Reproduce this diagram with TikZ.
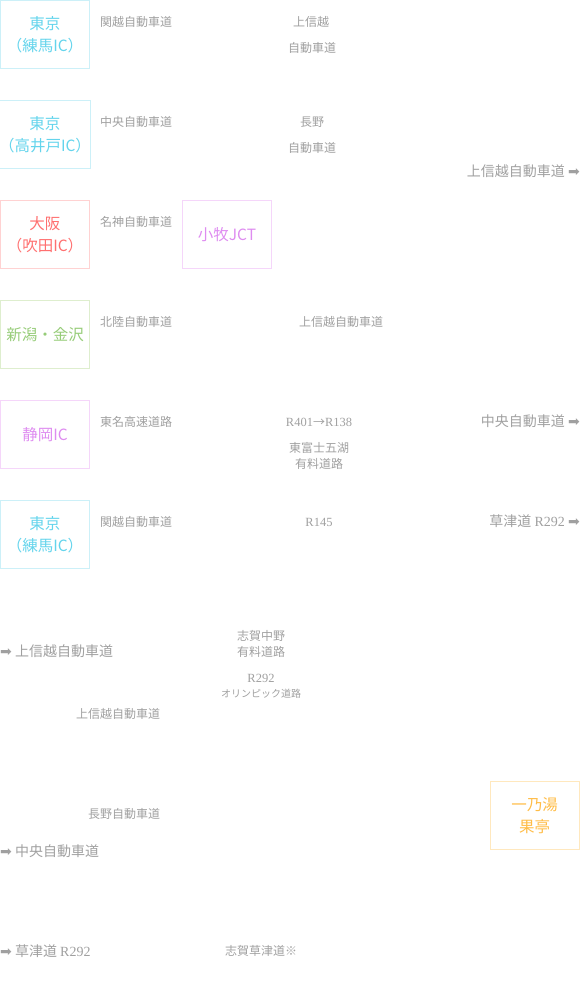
\documentclass[tikz,border=0pt]{standalone}
\usepackage{fontspec}
\setmainfont{Liberation Serif}
\newfontfamily\jp{Noto Sans CJK JP}
\newfontfamily\sym{DejaVu Sans}
\usepackage{tikz}
\usepackage{xcolor}
\usetikzlibrary{positioning}

\definecolor{roadgray}{RGB}{160,160,160}
\definecolor{tokyoC}{RGB}{100,212,236}
\definecolor{tokyoB}{RGB}{204,240,248}
\definecolor{osakaC}{RGB}{255,112,112}
\definecolor{osakaB}{RGB}{255,210,210}
\definecolor{komakiC}{RGB}{222,140,240}
\definecolor{komakiB}{RGB}{245,214,250}
\definecolor{niigataC}{RGB}{150,204,120}
\definecolor{niigataB}{RGB}{222,238,206}
\definecolor{onsenC}{RGB}{255,188,70}
\definecolor{onsenB}{RGB}{255,232,190}

\newcommand{\go}{{\sym\fontsize{14}{14}\selectfont ➡}}

\tikzset{
  box/.style={draw, line width=1pt, minimum width=89pt, minimum height=68pt, inner sep=0pt, align=center, font=\jp\fontsize{15.5}{22}\selectfont},
  road/.style={text=roadgray, inner sep=0pt, align=center, font=\jp\fontsize{12}{16}\selectfont},
  tiny/.style={text=roadgray, inner sep=0pt, align=center, font=\jp\fontsize{10}{14}\selectfont},
  dest/.style={text=roadgray, inner sep=0pt, font=\jp\fontsize{14}{18}\selectfont},
}

\begin{document}
\begin{tikzpicture}[x=1pt, y=-1pt]
        \useasboundingbox (0,0) rectangle (580,1000);

        % Start and goal boxes
        \node[box, draw=tokyoB, text=tokyoC] (nerima) at (45,34.5) {東京\\（練馬IC）};
        \node[box, draw=tokyoB, text=tokyoC] (takaido) at (45,134.5) {東京\\（高井戸IC）};
        \node[box, draw=osakaB, text=osakaC] (osaka) at (45,234.5) {大阪\\（吹田IC）};
        \node[box, draw=komakiB, text=komakiC] (komaki) at (227,234.5) {小牧JCT};
        \node[box, draw=niigataB, text=niigataC] (niigata) at (45,334.5) {新潟・金沢};
        \node[box, draw=komakiB, text=komakiC] (shizuoka) at (45,434.5) {静岡IC};
        \node[box, draw=tokyoB, text=tokyoC] (nerima2) at (45,534.5) {東京\\（練馬IC）};
        \node[box, draw=onsenB, text=onsenC] (onsen) at (534.5,815.5) {一乃湯\\果亭};

        % Roads, first part
        \node[road, anchor=west] (kanetsu) at (100,22) {関越自動車道};
        \node[road] (joshin1) at (311,22) {上信越};
        \node[road] (joshin2) at (312,48) {自動車道};
        \node[road, anchor=west] (chuo) at (100,122) {中央自動車道};
        \node[road] (nagano1) at (312,122) {長野};
        \node[road] (nagano2) at (312,148) {自動車道};
        \node[dest, anchor=east] (toJoshin) at (580,171) {上信越自動車道 \go};
        \node[road, anchor=west] (meishin) at (100,222) {名神自動車道};
        \node[road, anchor=west] (hokuriku) at (100,322) {北陸自動車道};
        \node[road] (joshin3) at (341,322) {上信越自動車道};
        \node[road, anchor=west] (tomei) at (100,422) {東名高速道路};
        \node[road, font=\fontsize{12.5}{16}\selectfont] (r401) at (319,422) {R401{\jp\fontsize{12}{16}\selectfont →}R138};
        \node[road] (fujigoko) at (319,456) {東富士五湖\\有料道路};
        \node[dest, anchor=east] (toChuo) at (580,421) {中央自動車道 \go};
        \node[road, anchor=west] (kanetsu2) at (100,522) {関越自動車道};
        \node[road, font=\fontsize{12.5}{16}\selectfont] (r145) at (319,522) {R145};
        \node[dest, anchor=east] (toKusatsu) at (580,521) {草津道 {\rmfamily R292} \go};

        % Roads, second part
        \node[dest, anchor=west] (fromJoshin) at (0,651) {\go{} 上信越自動車道};
        \node[road] (shiga) at (261,644) {志賀中野\\有料道路};
        \node[road, font=\fontsize{12.5}{16}\selectfont] (r292) at (261,678) {R292};
        \node[tiny] (olympic) at (261,694) {オリンピック道路};
        \node[road] (joshin4) at (118,714) {上信越自動車道};
        \node[road] (naganoExp) at (124,814) {長野自動車道};
        \node[dest, anchor=west] (fromChuo) at (0,851) {\go{} 中央自動車道};
        \node[dest, anchor=west] (fromKusatsu) at (0,951) {\go{} 草津道 {\rmfamily R292}};
        \node[road] (shigaKusatsu) at (261,951) {志賀草津道※};
      \end{tikzpicture}
\end{document}
